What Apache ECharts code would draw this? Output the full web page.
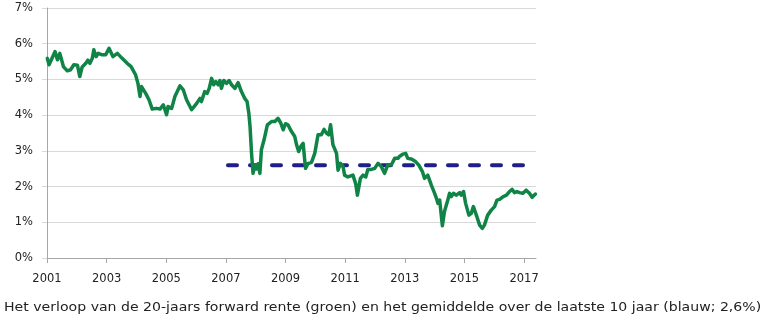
<!DOCTYPE html>
<html>
<head>
<meta charset="utf-8">
<script src="https://cdn.jsdelivr.net/npm/echarts@6/dist/echarts.min.js"></script>
<style>
html,body{margin:0;padding:0;background:#fff;}
#chart{width:768px;height:323px;}
</style>
</head>
<body>
<div id="chart"></div>
<script>
var years = [
2001.01,2001.07,2001.27,2001.35,2001.43,2001.55,2001.68,2001.79,2001.90,
2002.02,2002.10,2002.18,2002.30,2002.37,2002.44,2002.52,2002.57,2002.65,2002.72,2002.85,2002.97,
2003.08,2003.21,2003.36,2003.52,2003.69,2003.82,2003.97,
2004.05,2004.12,2004.17,2004.31,2004.42,2004.53,2004.67,2004.79,2004.90,2004.95,
2005.01,2005.06,2005.18,2005.29,2005.46,2005.57,2005.68,2005.85,2005.90,
2006.02,2006.13,2006.18,2006.29,2006.37,2006.44,2006.52,2006.59,2006.66,2006.74,2006.80,2006.85,2006.93,
2007.02,2007.11,2007.19,2007.30,2007.41,2007.52,2007.63,2007.71,2007.77,2007.81,2007.86,2007.91,2007.97,
2008.02,2008.08,2008.14,2008.19,2008.28,2008.39,2008.53,2008.64,2008.75,2008.84,2008.92,
2009.00,2009.08,2009.20,2009.31,2009.37,2009.44,2009.51,2009.59,2009.67,2009.75,2009.87,2009.98,
2010.09,2010.20,2010.29,2010.37,2010.45,2010.51,2010.59,2010.71,2010.76,2010.84,2010.93,2010.98,
2011.09,2011.26,2011.35,2011.41,2011.51,2011.60,2011.69,2011.76,2011.88,2011.99,
2012.10,2012.21,2012.32,2012.43,2012.55,2012.66,2012.77,2012.83,2012.94,
2013.03,2013.10,2013.22,2013.36,2013.47,2013.59,2013.66,2013.77,2013.89,
2014.00,2014.06,2014.11,2014.17,2014.26,2014.33,2014.44,2014.50,2014.56,2014.63,2014.73,2014.84,2014.89,2014.97,
2015.04,2015.15,2015.23,2015.30,2015.40,2015.51,2015.60,2015.67,2015.78,2015.90,
2016.01,2016.09,2016.18,2016.30,2016.41,2016.51,2016.60,2016.68,2016.76,2016.85,2016.96,
2017.07,2017.18,2017.27,2017.38
];
// 20-jaars forward rente (%)
var rates = [
5.59,5.41,5.78,5.55,5.73,5.36,5.24,5.27,5.41,
5.40,5.08,5.35,5.45,5.54,5.45,5.59,5.83,5.64,5.73,5.69,5.69,
5.87,5.64,5.73,5.59,5.45,5.36,5.13,
4.89,4.52,4.80,4.61,4.43,4.17,4.19,4.17,4.29,4.24,
4.01,4.24,4.19,4.52,4.82,4.71,4.43,4.15,4.10,
4.33,4.47,4.38,4.66,4.61,4.75,5.03,4.85,4.94,4.85,4.97,4.75,4.97,
4.89,4.97,4.85,4.75,4.91,4.66,4.47,4.38,4.05,3.68,2.93,2.37,2.61,
2.49,2.64,2.37,3.03,3.31,3.73,3.82,3.82,3.91,3.78,3.59,
3.76,3.73,3.54,3.40,3.17,2.98,3.12,3.21,2.51,2.64,2.68,2.93,
3.45,3.45,3.60,3.50,3.45,3.73,3.17,2.93,2.46,2.65,2.56,2.32,
2.27,2.32,2.09,1.76,2.23,2.32,2.27,2.48,2.48,2.51,
2.65,2.56,2.37,2.61,2.61,2.79,2.79,2.85,2.91,
2.93,2.79,2.77,2.70,2.60,2.42,2.23,2.32,2.04,
1.81,1.67,1.53,1.62,0.90,1.30,1.62,1.81,1.72,1.81,1.76,1.83,1.76,1.86,
1.53,1.20,1.25,1.44,1.20,0.92,0.83,0.92,1.20,1.34,
1.44,1.62,1.64,1.72,1.76,1.86,1.92,1.83,1.86,1.83,1.81,
1.90,1.81,1.70,1.79
];
// Gemiddelde over de laatste 10 jaar
var avgYears = [2007.07, 2017.0];
var avgValue = 2.6;
var baseYear = 2001;
var caption = 'Het verloop van de 20-jaars forward rente (groen) en het gemiddelde over de laatste 10 jaar (blauw; 2,6%)';

var lineData = years.map(function(y,i){ return [y - baseYear, rates[i]]; });
var avgData = avgYears.map(function(y){ return [y - baseYear, avgValue]; });

var chart = echarts.init(document.getElementById('chart'), null, {renderer:'canvas'});
var font = 'DejaVu Sans';
chart.setOption({
  animation:false,
  backgroundColor:'#ffffff',
  graphic:[{
    type:'text', x:4, y:308.5, scaleX:1.225, silent:true,
    style:{text:caption, fontFamily:font, fontSize:11.5, fill:'#222',
      textAlign:'left', textVerticalAlign:'middle'}
  }],
  grid:{left:47, right:232, top:8, bottom:65, containLabel:false},
  xAxis:{
    type:'value', min:0, max:16.4, interval:2,
    axisLine:{show:true, lineStyle:{color:'#a6a6a6', width:1}},
    axisTick:{show:true, length:5, lineStyle:{color:'#a6a6a6'}},
    splitLine:{show:false},
    axisLabel:{fontFamily:font, fontSize:11.5, color:'#222', margin:15,
      formatter:function(v){ return String(baseYear + v); },
      showMaxLabel:false}
  },
  yAxis:{
    type:'value', min:0, max:7, interval:1,
    axisLine:{show:true, lineStyle:{color:'#a6a6a6', width:1}},
    axisTick:{show:true, length:5, lineStyle:{color:'#d9d9d9'}},
    splitLine:{show:true, lineStyle:{color:'#d9d9d9', width:1}},
    axisLabel:{fontFamily:font, fontSize:11.5, color:'#222', margin:14,
      formatter:function(v){ return v + '%'; }}
  },
  series:[
    {
      type:'line', data:avgData, showSymbol:false, silent:true, z:2,
      lineStyle:{color:'#1f1f8c', width:4, type:[9,13], cap:'round'}
    },
    {
      type:'line', data:lineData, showSymbol:false, silent:true, z:3,
      lineStyle:{color:'#0f8446', width:3.5, join:'round', cap:'round'}
    }
  ]
});
</script>
</body>
</html>
